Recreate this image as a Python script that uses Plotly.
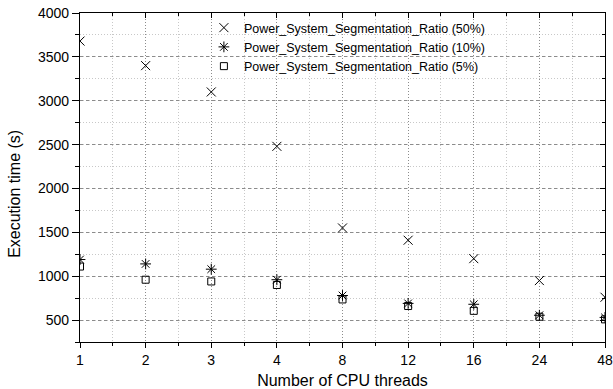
import plotly.graph_objects as go

threads = ["1", "2", "3", "4", "8", "12", "16", "24", "48"]
ratio_50 = [3680, 3400, 3100, 2480, 1550, 1410, 1200, 950, 760]
ratio_10 = [1190, 1140, 1080, 960, 780, 690, 680, 555, 530]
ratio_5 = [1110, 960, 940, 900, 735, 660, 605, 538, 508]
y_ticks = [500, 1000, 1500, 2000, 2500, 3000, 3500, 4000]

xpos = list(range(len(threads)))
FONT = "Liberation Sans, Arial, sans-serif"

fig = go.Figure()
series = [
    ("Power_System_Segmentation_Ratio (50%)", ratio_50, "x-thin-open", 9),
    ("Power_System_Segmentation_Ratio (10%)", ratio_10, "asterisk-open", 9),
    ("Power_System_Segmentation_Ratio (5%)", ratio_5, "square-open", 7),
]
for name, vals, sym, size in series:
    fig.add_trace(go.Scatter(
        x=xpos, y=vals, mode="markers", name=name,
        marker=dict(symbol=sym, size=size, color="black",
                    line=dict(color="black", width=1)),
    ))

# dummy trace for mirrored (top/right) axes with inward ticks
fig.add_trace(go.Scatter(x=[], y=[], xaxis="x2", yaxis="y2",
                         showlegend=False, hoverinfo="skip"))

fig.update_layout(
    width=613, height=389,
    margin=dict(l=80, r=8, t=13, b=47, autoexpand=False),
    paper_bgcolor="white", plot_bgcolor="white",
    font=dict(family=FONT, size=14, color="black"),
    showlegend=True,
    legend=dict(x=0.236, y=1.0, xanchor="left", yanchor="top",
                bgcolor="rgba(0,0,0,0)", font=dict(size=12.5),
                itemwidth=30, tracegroupgap=0),
    annotations=[dict(
        text="Execution time (s)", textangle=-90, font=dict(size=16),
        xref="paper", yref="paper", x=-0.124, y=0.45,
        xanchor="center", yanchor="middle", showarrow=False,
    )],
    xaxis=dict(
        automargin=False,
        range=[0, len(threads) - 1], tickmode="array", tickvals=xpos,
        ticktext=threads, showline=True, linecolor="black", linewidth=1.3,
        ticks="outside", ticklen=5, tickcolor="black",
        showgrid=True, gridcolor="#8c8c8c", griddash="1px,2px", gridwidth=1,
        zeroline=False,
        minor=dict(dtick=0.5, tick0=0, ticks="outside", ticklen=3,
                   tickcolor="black", showgrid=True, gridcolor="#c8c8c8",
                   griddash="1px,2px"),
        title=dict(text="Number of CPU threads", font=dict(size=16),
                   standoff=10),
        tickfont=dict(size=14),
    ),
    yaxis=dict(
        automargin=False,
        range=[250, 4000], tickmode="array", tickvals=y_ticks,
        showline=True, linecolor="black", linewidth=1.3,
        ticks="outside", ticklen=7, tickcolor="black",
        showgrid=True, gridcolor="#8c8c8c", griddash="3px,3px", gridwidth=1,
        zeroline=False,
        minor=dict(dtick=250, tick0=0, ticks="outside", ticklen=4,
                   tickcolor="black", showgrid=True, gridcolor="#c8c8c8",
                   griddash="1px,2px"),
        tickfont=dict(size=14),
    ),
    xaxis2=dict(
        overlaying="x", side="top", anchor="y", automargin=False,
        range=[0, len(threads) - 1], tickmode="array", tickvals=xpos,
        showticklabels=False, showline=True, linecolor="black",
        linewidth=1.3, ticks="inside", ticklen=5, tickcolor="black",
        showgrid=False, zeroline=False,
        minor=dict(dtick=0.5, tick0=0, ticks="inside", ticklen=3,
                   tickcolor="black", showgrid=False),
    ),
    yaxis2=dict(
        overlaying="y", side="right", anchor="x", automargin=False,
        range=[250, 4000], tickmode="array", tickvals=y_ticks,
        showticklabels=False, showline=True, linecolor="black",
        linewidth=1.3, ticks="inside", ticklen=5, tickcolor="black",
        showgrid=False, zeroline=False,
        minor=dict(dtick=250, tick0=0, ticks="inside", ticklen=3,
                   tickcolor="black", showgrid=False),
    ),
)

fig.write_html("out.html")
